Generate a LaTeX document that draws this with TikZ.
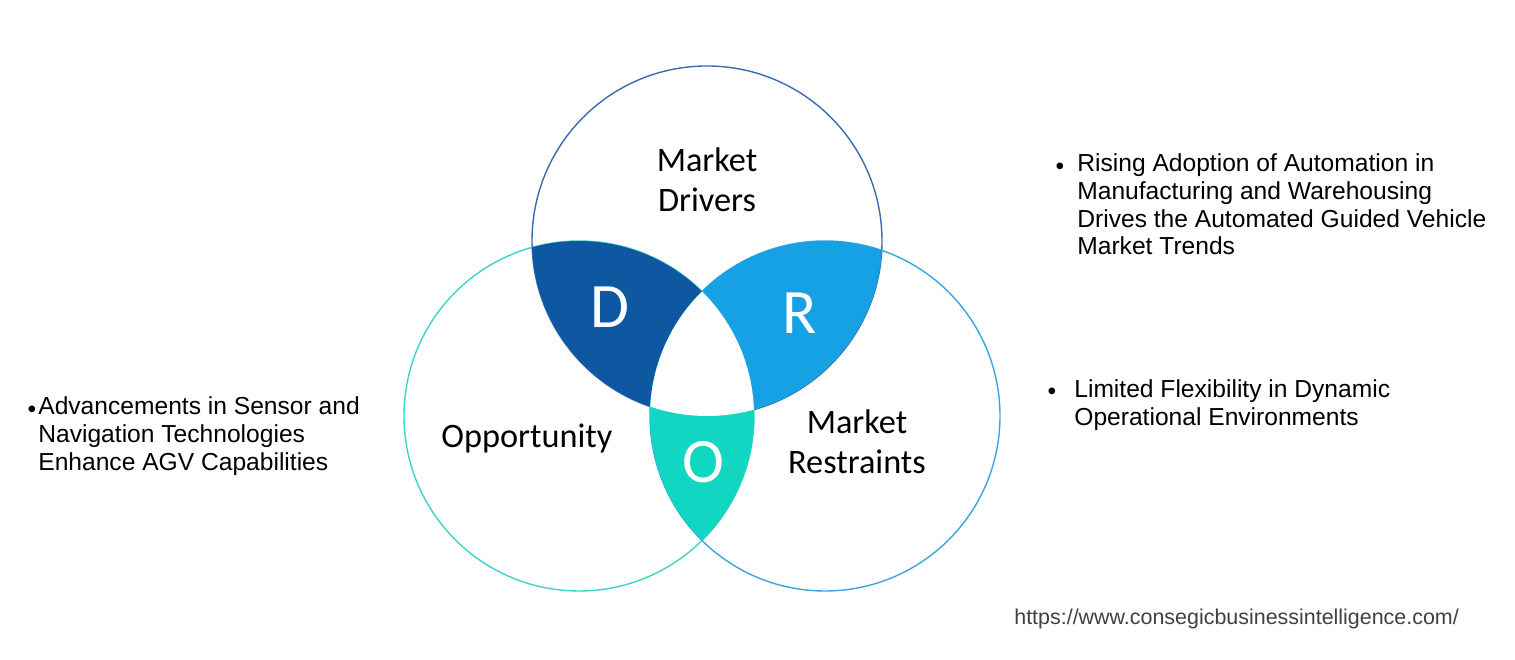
\documentclass[tikz,border=0pt]{standalone}
\usepackage{fontspec}
\setmainfont{Liberation Sans}
\newfontfamily\calfont{Carlito}
\definecolor{drvline}{HTML}{3A6DB0}
\definecolor{oppline}{HTML}{3DD5C6}
\definecolor{resline}{HTML}{3AA6DE}
\definecolor{dfill}{HTML}{0E58A2}
\definecolor{rfill}{HTML}{15A1E4}
\definecolor{ofill}{HTML}{11D7C2}
\definecolor{urlgray}{HTML}{404040}

\begin{document}
\begin{tikzpicture}
[every node/.style={inner sep=0pt},
 ring/.style={circle,draw=#1,line width=0.8pt,minimum size=7cm},
 lbl/.style={font=\calfont\fontsize{19.5}{22.7}\selectfont,align=center,text=black},
 big/.style={font=\calfont\fontsize{36}{40}\selectfont,text=white},
 txt/.style={font=\fontsize{14}{15.9}\selectfont,align=left,anchor=north west},
 dot/.style={font=\fontsize{14}{15.9}\selectfont}]
\useasboundingbox (0,0) rectangle (30.3,13.2);
\node[ring=drvline] (drv) at (14.14,8.38) {};
\node[ring=oppline] (opp) at (11.58,4.88) {};
\node[ring=resline] (res) at (16.5,4.88) {};
% overlaps
\begin{scope}
\clip (drv.center) circle (3.5);
\clip (opp.center) circle (3.5);
\fill[dfill] (opp.center) circle (3.6);
\end{scope}
\begin{scope}
\clip (drv.center) circle (3.5);
\clip (res.center) circle (3.5);
\fill[rfill] (res.center) circle (3.6);
\end{scope}
\begin{scope}
\clip (opp.center) circle (3.5);
\clip (res.center) circle (3.5);
\fill[ofill] (res.center) circle (3.6);
\end{scope}
\begin{scope}
\clip (drv.center) circle (3.5);
\clip (opp.center) circle (3.5);
\fill[white] (res.center) circle (3.5);
\end{scope}
\node[lbl] (drvt) at (14.14,9.6) {Market\\Drivers};
\node[lbl] (oppt) at (10.54,4.44) {Opportunity};
\node[lbl] (rest) at (17.14,4.36) {Market\\Restraints};
\node[big] (d) at (12.2,7.06) {D};
\node[big] (r) at (16.0,6.94) {R};
\node[big] (o) at (14.06,3.96) {O};
% bullet texts
\node[dot] (b1) at (21.2,9.82) {•};
\node[txt] (t1) at (21.54,10.14) {Rising Adoption of Automation in\\Manufacturing and Warehousing\\Drives the Automated Guided Vehicle\\Market Trends};
\node[dot] (b2) at (21.04,5.32) {•};
\node[txt] (t2) at (21.48,5.62) {Limited Flexibility in Dynamic\\Operational Environments};
\node[dot] (b3) at (0.64,4.97) {•};
\node[txt] (t3) at (0.76,5.28) {Advancements in Sensor and\\Navigation Technologies\\Enhance AGV Capabilities};
\node[font=\fontsize{12.2}{14}\selectfont,text=urlgray,anchor=west] (url) at (20.28,0.82) {https://www.consegicbusinessintelligence.com/};
\end{tikzpicture}
\end{document}
